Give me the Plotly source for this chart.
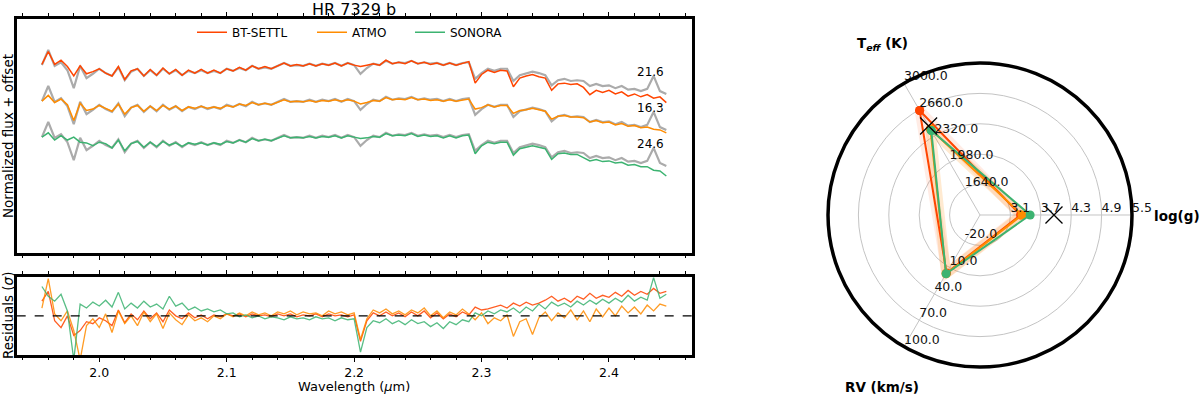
import plotly.graph_objects as go

# --------------------- DATA ---------------------

# wavelength grid (micron)
wavelength = [1.955, 1.960, 1.965, 1.970, 1.975, 1.980, 1.985, 1.990, 1.995,
              2.000, 2.005, 2.010, 2.015, 2.020, 2.025, 2.030, 2.035, 2.040, 2.045,
              2.050, 2.055, 2.060, 2.065, 2.070, 2.075, 2.080, 2.085, 2.090, 2.095,
              2.100, 2.105, 2.110, 2.115, 2.120, 2.125, 2.130, 2.135, 2.140, 2.145,
              2.150, 2.155, 2.160, 2.165, 2.170, 2.175, 2.180, 2.185, 2.190, 2.195,
              2.200, 2.205, 2.210, 2.215, 2.220, 2.225, 2.230, 2.235, 2.240, 2.245,
              2.250, 2.255, 2.260, 2.265, 2.270, 2.275, 2.280, 2.285, 2.290, 2.295,
              2.300, 2.305, 2.310, 2.315, 2.320, 2.325, 2.330, 2.335, 2.340, 2.345,
              2.350, 2.355, 2.360, 2.365, 2.370, 2.375, 2.380, 2.385, 2.390, 2.395,
              2.400, 2.405, 2.410, 2.415, 2.420, 2.425, 2.430, 2.435, 2.440, 2.445]

# observed spectrum (normalized)
obs_flux = [0.97, 1.18, 0.96, 1.01, 0.90, 0.65, 0.96, 0.79, 0.85,
            0.92, 0.86, 0.82, 0.94, 0.76, 0.88, 0.92, 0.82, 0.90, 0.83,
            0.92, 0.85, 0.90, 0.83, 0.89, 0.86, 0.90, 0.86, 0.89, 0.86,
            0.92, 0.89, 0.93, 0.90, 0.96, 0.92, 0.94, 0.92, 0.96, 1.00,
            0.96, 0.97, 0.96, 0.99, 0.96, 0.99, 0.97, 1.00, 0.96, 1.00,
            0.97, 0.85, 0.93, 0.99, 0.97, 1.03, 0.99, 1.01, 1.00, 1.03,
            0.99, 1.01, 0.99, 1.00, 0.97, 1.00, 0.97, 1.00, 1.01, 0.78,
            0.86, 0.92, 0.89, 0.92, 0.92, 0.75, 0.83, 0.85, 0.88, 0.86,
            0.83, 0.69, 0.76, 0.78, 0.75, 0.76, 0.75, 0.68, 0.71, 0.68,
            0.69, 0.65, 0.68, 0.63, 0.64, 0.61, 0.64, 0.82, 0.61, 0.57]

# best fit models (normalized)
btsettl_flux = [0.98, 1.16, 0.98, 1.04, 0.95, 0.82, 0.96, 0.85, 0.88,
                0.92, 0.86, 0.82, 0.95, 0.77, 0.89, 0.92, 0.82, 0.91, 0.83,
                0.93, 0.85, 0.91, 0.83, 0.90, 0.86, 0.91, 0.86, 0.90, 0.86,
                0.92, 0.89, 0.94, 0.90, 0.96, 0.92, 0.95, 0.92, 0.96, 1.00,
                0.96, 0.98, 0.96, 0.99, 0.96, 0.99, 0.97, 1.00, 0.96, 1.00,
                0.97, 0.95, 0.97, 0.99, 0.97, 1.04, 0.99, 1.01, 0.99, 1.03,
                0.99, 1.01, 0.98, 1.00, 0.97, 1.00, 0.97, 1.00, 1.02, 0.72,
                0.84, 0.90, 0.87, 0.90, 0.89, 0.67, 0.79, 0.82, 0.84, 0.81,
                0.79, 0.62, 0.71, 0.72, 0.70, 0.71, 0.66, 0.56, 0.62, 0.59,
                0.62, 0.57, 0.60, 0.54, 0.57, 0.53, 0.56, 0.51, 0.53, 0.45]

atmo_flux = [0.97, 1.05, 0.95, 1.00, 0.92, 0.70, 0.94, 0.84, 0.86,
             0.91, 0.87, 0.83, 0.93, 0.79, 0.88, 0.91, 0.83, 0.90, 0.84,
             0.91, 0.86, 0.90, 0.84, 0.89, 0.87, 0.90, 0.87, 0.89, 0.87,
             0.91, 0.89, 0.93, 0.91, 0.95, 0.92, 0.94, 0.92, 0.95, 0.99,
             0.96, 0.97, 0.96, 0.98, 0.96, 0.98, 0.97, 0.99, 0.97, 0.99,
             0.97, 0.93, 0.95, 0.98, 0.97, 1.02, 0.99, 1.00, 0.99, 1.02,
             0.99, 1.00, 0.98, 0.99, 0.97, 0.99, 0.97, 0.99, 1.00, 0.86,
             0.88, 0.92, 0.89, 0.91, 0.91, 0.80, 0.84, 0.85, 0.87, 0.85,
             0.83, 0.72, 0.76, 0.77, 0.75, 0.75, 0.74, 0.68, 0.70, 0.67,
             0.68, 0.64, 0.66, 0.62, 0.63, 0.60, 0.61, 0.58, 0.57, 0.53]

sonora_flux = [0.97, 1.03, 0.93, 0.99, 0.93, 0.97, 0.90, 0.89, 0.85,
               0.90, 0.88, 0.82, 0.93, 0.78, 0.88, 0.91, 0.83, 0.90, 0.84,
               0.91, 0.86, 0.89, 0.84, 0.89, 0.87, 0.89, 0.86, 0.89, 0.87,
               0.91, 0.89, 0.93, 0.90, 0.95, 0.92, 0.94, 0.92, 0.95, 0.99,
               0.96, 0.97, 0.96, 0.98, 0.96, 0.98, 0.97, 0.99, 0.96, 0.99,
               0.97, 0.95, 0.96, 0.98, 0.97, 1.02, 0.99, 1.00, 0.99, 1.02,
               0.98, 1.00, 0.98, 0.99, 0.96, 0.99, 0.96, 0.99, 1.00, 0.74,
               0.85, 0.90, 0.88, 0.90, 0.90, 0.72, 0.81, 0.83, 0.85, 0.83,
               0.81, 0.66, 0.74, 0.75, 0.73, 0.73, 0.69, 0.64, 0.66, 0.63,
               0.64, 0.61, 0.62, 0.58, 0.59, 0.56, 0.56, 0.51, 0.50, 0.43]

# residuals (sigma)
btsettl_res = [1.5, 2.5, -0.5, -1.2, 0.0, -2.0, -1.5, -0.6, -0.8,
               -0.2, -0.5, -1.0, 0.6, -0.7, 0.2, -0.4, 0.5, -0.3, 0.3,
               -0.6, 0.6, 0.0, -0.3, 0.3, -0.2, 0.1, -0.3, 0.1, -0.1,
               0.2, 0.0, 0.2, -0.1, 0.2, 0.0, 0.1, -0.1, 0.2, 0.0,
               0.2, -0.1, 0.1, 0.0, 0.2, -0.1, 0.2, 0.0, 0.1, -0.1,
               0.1, -2.6, -0.5, 0.3, 0.0, 0.4, 0.0, 0.3, -0.1, 0.4,
               0.0, 0.5, -0.2, 0.3, -0.3, 0.2, -0.1, 0.4, 0.1, 0.9,
               0.6, 0.7, 0.9, 1.1, 0.8, 1.3, 1.0, 1.4, 1.1, 1.3,
               1.6, 2.0, 1.5, 1.8, 1.4, 2.0, 1.7, 2.3, 1.8, 2.1,
               1.9, 2.4, 2.0, 2.6, 2.1, 2.5, 2.2, 2.8, 2.3, 2.5]

atmo_res = [0.8, 3.8, 0.2, -0.5, 0.5, -1.5, -4.5, -1.0, -0.3,
            -1.2, 0.2, -1.7, 0.5, -0.8, 0.0, -1.0, 0.4, -0.6, 0.2,
            -1.3, 0.3, -0.4, -0.9, 0.1, -0.5, -0.2, -0.6, 0.0, -0.3,
            0.2, -0.1, 0.3, 0.0, 0.4, 0.1, 0.3, 0.0, 0.4, 0.2,
            0.5, 0.1, 0.4, 0.2, 0.3, 0.0, 0.5, 0.2, 0.4, 0.1,
            0.3, -2.4, -0.3, 0.6, 0.3, 0.7, 0.2, 0.5, 0.1, 0.6,
            0.3, 0.8, 0.0, 0.5, -0.2, 0.4, 0.1, 0.7, 0.2, -0.4,
            0.3, -0.8, -0.2, -0.5, 0.1, -2.1, -0.6, -0.3, -1.9, -0.2,
            0.4, -0.5, 0.3, -0.2, 0.6, -0.4, 0.5, -0.6, 0.7, -0.1,
            0.8, 0.0, 1.0, 0.3, 0.9, 0.2, 1.1, 0.5, 1.2, 1.0]

sonora_res = [3.0, 2.0, 1.5, 2.2, 0.5, -4.5, 1.2, 0.8, 1.4,
              1.0, 1.6, 0.9, 2.4, 0.7, 1.3, 0.8, 1.5, 0.9, 1.2,
              0.7, 2.0, 1.0, 1.3, 0.6, 0.9, 0.5, 0.7, 0.4, 0.6,
              0.2, 0.3, -0.1, 0.1, -0.2, 0.0, -0.3, -0.1, -0.2, -0.4,
              -0.1, -0.3, -0.2, -0.4, -0.1, -0.3, -0.2, -0.5, -0.2, -0.4,
              -0.3, -3.7, -1.2, -0.5, -0.7, -0.3, -0.8, -0.5, -0.9, -0.4,
              -0.8, -0.6, -1.1, -0.7, -1.3, -0.6, -0.9, -0.4, -0.6, 0.3,
              0.0, 0.5, 0.2, 0.6, 0.4, 0.8, 0.3, 0.9, 0.5, 1.2,
              0.7, 1.4, 1.0, 1.3, 0.9, 1.5, 1.1, 1.6, 1.2, 1.7,
              1.3, 1.8, 1.4, 2.1, 1.5, 1.9, 1.6, 3.9, 1.8, 2.2]

model_names = ['BT-SETTL', 'ATMO', 'SONORA']
model_colors = ['#FF4500', '#FF8C00', '#3CB371']
offsets = [1.0, 0.5, 0.0]
chi2_labels = ['21.6', '16.3', '24.6']

# radar chart: Teff (K), log(g), RV (km/s)
teff_ticks = [1640.0, 1980.0, 2320.0, 2660.0, 3000.0]
logg_ticks = [3.1, 3.7, 4.3, 4.9, 5.5]
rv_ticks = [-20.0, 10.0, 40.0, 70.0, 100.0]
btsettl_params = [2650, 3.30, 16]
atmo_params = [2410, 3.33, 17]
sonora_params = [2390, 3.49, 17]
literature_teff = 2450
literature_logg = 3.96

# --------------------- HELPER METHODS ---------------------

ring_r = [0.2, 0.4, 0.6, 0.8, 1.0]

def to_ring(value, ticks):
    step = ticks[1] - ticks[0]
    return 0.2 + 0.2 * (value - ticks[0]) / step

def radar_r(params):
    rr = [to_ring(params[0], teff_ticks), to_ring(params[1], logg_ticks), to_ring(params[2], rv_ticks)]
    return rr + [rr[0]]

radar_theta = [120, 0, 240, 120]

FONT = 'DejaVu Sans'

# --------------------- FIGURE ---------------------

fig = go.Figure()

models_flux = [btsettl_flux, atmo_flux, sonora_flux]
models_res = [btsettl_res, atmo_res, sonora_res]
legend_ids = ['legend', 'legend2', 'legend3']

# observed data (gray) behind each model
for off in offsets:
    fig.add_trace(go.Scatter(
        x=wavelength, y=[f + off for f in obs_flux],
        mode='lines', line=dict(color='#ababab', width=2.2),
        showlegend=False, xaxis='x', yaxis='y'))

for name, color, flux, off, lg in zip(model_names, model_colors, models_flux, offsets, legend_ids):
    fig.add_trace(go.Scatter(
        x=wavelength, y=[f + off for f in flux],
        mode='lines', name=name, line=dict(color=color, width=1.5),
        legend=lg, xaxis='x', yaxis='y'))

for name, color, res in zip(model_names, model_colors, models_res):
    fig.add_trace(go.Scatter(
        x=wavelength, y=res, mode='lines', line=dict(color=color, width=1.3),
        opacity=0.85, showlegend=False, xaxis='x2', yaxis='y2'))

# radar: error bands then lines
for params, band in [(btsettl_params, 'rgba(255,69,0,0.10)'), (atmo_params, 'rgba(255,140,0,0.18)')]:
    fig.add_trace(go.Scatterpolar(
        r=radar_r(params), theta=radar_theta, mode='lines',
        line=dict(color=band, width=10), showlegend=False))

for params, color in zip([btsettl_params, atmo_params, sonora_params], model_colors):
    fig.add_trace(go.Scatterpolar(
        r=radar_r(params), theta=radar_theta, mode='lines+markers',
        line=dict(color=color, width=2), marker=dict(color=color, size=9),
        showlegend=False))

fig.add_trace(go.Scatterpolar(
    r=[to_ring(literature_teff, teff_ticks), to_ring(literature_logg, logg_ticks)],
    theta=[120, 0], mode='markers',
    marker=dict(symbol='x-thin', size=17, line=dict(color='black', width=1.3)),
    showlegend=False))

for ticks, ang in [(teff_ticks, 120), (logg_ticks, 0), (rv_ticks, 240)]:
    fig.add_trace(go.Scatterpolar(
        r=ring_r, theta=[ang] * 5, mode='text',
        text=['%.1f' % t for t in ticks], textposition='top right',
        textfont=dict(family=FONT, size=12.5, color='#111111'),
        cliponaxis=False, showlegend=False))

axis_common = dict(
    range=[1.9352, 2.4649], tick0=2.0, dtick=0.1, ticks='outside', ticklen=4,
    tickwidth=1, tickcolor='black',
    minor=dict(dtick=0.02, ticks='outside', ticklen=2.5, tickcolor='black'),
    showline=True, linewidth=3, linecolor='black', mirror='allticks',
    showgrid=False, zeroline=False,
)

legend_common = dict(orientation='h', y=0.955, xanchor='left', yanchor='top',
                     bgcolor='rgba(0,0,0,0)', font=dict(size=12), itemwidth=30)

fig.update_layout(
    width=1200, height=395,
    margin=dict(l=0, r=0, t=0, b=0, autoexpand=False),
    paper_bgcolor='white', plot_bgcolor='white',
    font=dict(family=FONT, size=12, color='black'),
    xaxis=dict(domain=[0.0139, 0.5764], anchor='y', showticklabels=False, **axis_common),
    xaxis2=dict(domain=[0.0139, 0.5764], anchor='y2', showticklabels=True, tickformat='.1f',
                tickfont=dict(size=12.5), matches='x', **axis_common),
    yaxis=dict(domain=[0.3603, 0.9519], range=[-0.635, 2.611], showticklabels=False, ticks='',
               showline=True, linewidth=3, linecolor='black', mirror=True,
               showgrid=False, zeroline=False),
    yaxis2=dict(domain=[0.1013, 0.2995], range=[-4, 4], showticklabels=False, ticks='',
                showline=True, linewidth=3, linecolor='black', mirror=True,
                showgrid=False, zeroline=False),
    polar=dict(
        domain=dict(x=[828 / 1200, 1132 / 1200], y=[0.0709, 0.8405]),
        bgcolor='white',
        radialaxis=dict(range=[0, 1], tickvals=ring_r, showticklabels=False, ticks='',
                        showline=False, gridcolor='#c4c4c4', gridwidth=1),
        angularaxis=dict(tickvals=[0, 120, 240], showticklabels=False, ticks='',
                         direction='counterclockwise', rotation=0,
                         gridcolor='#c4c4c4', gridwidth=1,
                         showline=True, linecolor='black', linewidth=3.5),
    ),
    legend=dict(x=192 / 1200, **legend_common),
    legend2=dict(x=312 / 1200, **legend_common),
    legend3=dict(x=410 / 1200, **legend_common),
    showlegend=True,
)

fig.add_shape(type='line', xref='x2 domain', x0=0, x1=1, yref='y2', y0=0, y1=0,
              line=dict(color='black', width=1.3, dash='dash'), layer='above')


def paper_label(text, px, py, size, angle=0):
    return dict(text=text, x=px / 1200, y=1 - py / 395, xref='paper', yref='paper',
                xanchor='center', yanchor='middle', showarrow=False,
                textangle=angle, font=dict(size=size))


annotations = [
    paper_label('HR 7329 b', 354, 9, 16),
    paper_label('Normalized flux + offset', 8, 136, 13.5, -90),
    paper_label('Residuals (<i>σ</i>)', 8, 316, 13.5, -90),
    paper_label('Wavelength (<i>μ</i>m)', 354, 386.5, 13),
    paper_label('<b>T<sub><i>eff</i></sub> (K)</b>', 882, 44, 13.5),
    paper_label('<b>log(g)</b>', 1177, 216, 13.5),
    paper_label('<b>RV (km/s)</b>', 882, 387, 13.5),
]
for lab, off in zip(chi2_labels, offsets):
    annotations.append(dict(text=lab, x=2.4323, y=off + 0.87, xref='x', yref='y',
                            xanchor='center', yanchor='middle',
                            showarrow=False, font=dict(size=12)))
fig.update_layout(annotations=annotations)

# the page's default body margin would shift the figure by 8px
fig.write_html("out.html", config={'displayModeBar': False},
               post_script="document.body.style.margin='0px';")
